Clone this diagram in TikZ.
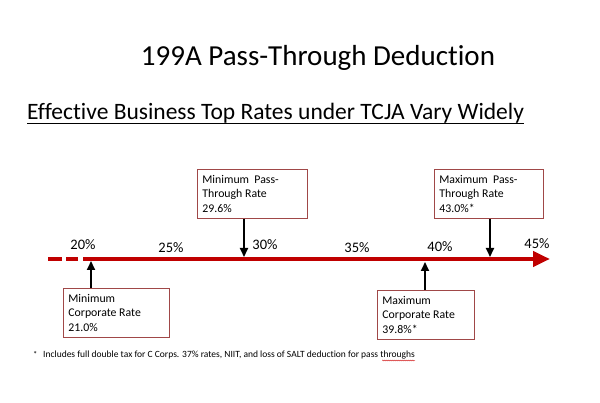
\documentclass[tikz,border=0pt]{standalone}
\usepackage{fontspec}
\setmainfont{Carlito}[Ligatures=CommonOff]
\usetikzlibrary{arrows.meta,decorations.pathmorphing,calc}
\definecolor{axisred}{HTML}{C00000}
\definecolor{boxred}{HTML}{A04848}
\begin{document}
\begin{tikzpicture}[x=1pt,y=-1pt,
  ratebox/.style={draw=boxred,line width=0.8pt,fill=white,align=flush left,anchor=north west,
    font=\fontsize{11.8}{14.5}\selectfont,inner xsep=5pt,inner ysep=3pt},
  tick/.style={font=\fontsize{14.5}{16}\selectfont,inner sep=0pt},
  pointer/.style={-{Triangle[length=9pt,width=8pt]},line width=2pt,black}]
\useasboundingbox (0,0) rectangle (600,403);
\node[font=\fontsize{29}{32}\selectfont,anchor=base] (title) at (318,66) {199A Pass-Through Deduction};
\node[font=\fontsize{23.5}{26}\selectfont,anchor=base west,inner sep=0pt] (sub) at (27,120) {Effective Business Top Rates under TCJA Vary Widely};
\draw[line width=1pt] ($(sub.base west)+(0,4)$) coordinate (ul1) -- ($(sub.base east)+(0,4)$) coordinate (ul2);
% axis
\coordinate (d0) at (48,259);
\coordinate (d1) at (62,259);
\coordinate (d2) at (66,259);
\coordinate (d3) at (78,259);
\coordinate (s0) at (83,259);
\coordinate (s1) at (550,259);
\draw[axisred,line width=4.5pt] (d0) -- (d1);
\draw[axisred,line width=4.5pt] (d2) -- (d3);
\draw[axisred,line width=4.5pt,-{Triangle[length=17pt,width=15pt]}] (s0) -- (s1);
% ticks
\node[tick,anchor=base] (t20) at (83,250) {20\%};
\node[tick,anchor=base] (t25) at (171,253) {25\%};
\node[tick,anchor=base] (t30) at (265,250) {30\%};
\node[tick,anchor=base] (t35) at (357,253) {35\%};
\node[tick,anchor=base] (t40) at (440,252) {40\%};
\node[tick,anchor=base] (t45) at (537,249) {45\%};
% boxes
\node[ratebox,text width=96pt,minimum height=49pt] (minc) at (63,288) {Minimum\\Corporate Rate\\21.0\%};
\node[ratebox,text width=100pt,minimum height=49pt] (minp) at (197,169) {Minimum\ \ Pass-\\Through Rate\\29.6\%};
\node[ratebox,text width=99pt,minimum height=49pt] (maxp) at (434,169) {Maximum\ \ Pass-\\Through Rate\\43.0\%*};
\node[ratebox,text width=87pt,minimum height=49pt] (maxc) at (377,290) {Maximum\\Corporate Rate\\39.8\%*};
% pointers
\coordinate (pminc) at (91,261);
\coordinate (pminp) at (244,257);
\coordinate (pmaxp) at (490,257);
\coordinate (pmaxc) at (425,262);
\draw[pointer] (minc.north west -| pminc) -- (pminc);
\draw[pointer] (minp.south west -| pminp) -- (pminp);
\draw[pointer] (maxp.south west -| pmaxp) -- (pmaxp);
\draw[pointer] (maxc.north west -| pmaxc) -- (pmaxc);
% footnote
\node[anchor=base west,inner sep=0pt,font=\fontsize{8.5}{9}\selectfont] (star) at (33,358) {*};
\node[anchor=base west,inner sep=0pt,font=\fontsize{9.5}{11}\selectfont] (foot) at (43,358) {Includes full double tax for C Corps. 37\% rates, NIIT, and loss of SALT deduction for pass throughs};
\draw[red!80!black,line width=0.4pt,decorate,decoration={snake,amplitude=0.5pt,segment length=2pt}] ($(foot.base east)+(-33,2.5)$) coordinate (sq1) -- ($(foot.base east)+(0,2.5)$) coordinate (sq2);
\end{tikzpicture}
\end{document}
